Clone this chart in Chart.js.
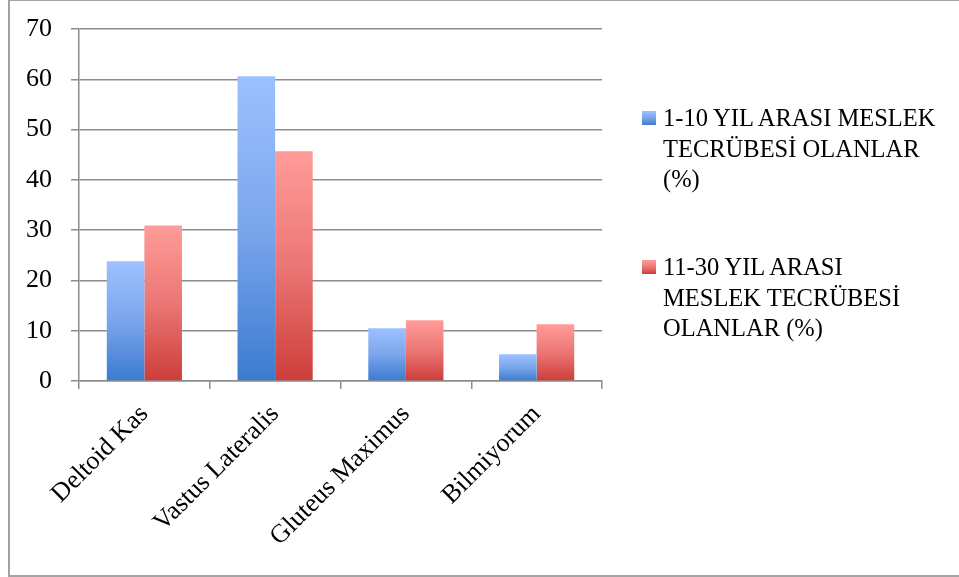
<!DOCTYPE html>
<html>
<head>
<meta charset="utf-8">
<script src="https://cdn.jsdelivr.net/npm/chart.js@4.4.0/dist/chart.umd.min.js"></script>
<style>
  html, body { margin: 0; padding: 0; background: #fff; }
  #wrap { position: relative; width: 959px; height: 577px; overflow: hidden; font-family: 'Liberation Serif', serif; }
  #frame { position: absolute; left: 8px; top: -1px; width: 960px; height: 574px; border: 2px solid #a3a3a3; }
  canvas { position: absolute; left: 0; top: 0; }
  #legend { position: absolute; left: 642px; top: 103px; margin: 0; padding: 0; list-style: none; }
  #legend li { position: relative; padding-left: 21px; margin-bottom: 57.5px; font-size: 24.5px; line-height: 30.5px; color: #000; white-space: nowrap; }
  #legend .box { position: absolute; left: 0; top: 8px; width: 14px; height: 14px; }
</style>
</head>
<body>
<div id="wrap">
  <div id="frame"></div>
  <canvas id="chart" width="959" height="577"></canvas>
  <ul id="legend"></ul>
</div>
<script>
const categories = ['Deltoid Kas', 'Vastus Lateralis', 'Gluteus Maximus', 'Bilmiyorum'];
const yTicks = [0, 10, 20, 30, 40, 50, 60, 70];

const series1Lines = ['1-10 YIL ARASI MESLEK', 'TECRÜBESİ OLANLAR', '(%)'];
const series1Values = [23.8, 60.6, 10.5, 5.3];

const series2Lines = ['11-30 YIL ARASI', 'MESLEK TECRÜBESİ', 'OLANLAR (%)'];
const series2Values = [30.9, 45.7, 12.1, 11.3];

const blueStops = ['#9dc1ff', '#7aa5ec', '#3b7bcf'];
const redStops = ['#ff9c99', '#eb7674', '#cd3d3a'];

const FONT = 'Liberation Serif';
const GRID = '#8c8c8c';

// each bar gets its own vertical gradient, light at the top, dark at the base
const barGradient = (stops) => (ctx) => {
  const { chart, raw } = ctx;
  const y = chart.scales && chart.scales.y;
  if (!y || raw == null || !chart.chartArea) return stops[1];
  const g = chart.ctx.createLinearGradient(0, y.getPixelForValue(raw), 0, y.getPixelForValue(0));
  g.addColorStop(0, stops[0]);
  g.addColorStop(0.5, stops[1]);
  g.addColorStop(1, stops[2]);
  return g;
};

const legendLines = [series1Lines, series2Lines];
const legendStops = [blueStops, redStops];

// html legend: the built-in one cannot be wider than a quarter of the canvas here
const htmlLegend = {
  id: 'htmlLegend',
  afterUpdate(chart) {
    const list = document.getElementById('legend');
    list.innerHTML = '';
    chart.data.datasets.forEach((ds, i) => {
      const li = document.createElement('li');
      const box = document.createElement('span');
      box.className = 'box';
      const s = legendStops[i];
      box.style.background = `linear-gradient(${s[0]}, ${s[1]}, ${s[2]})`;
      li.appendChild(box);
      legendLines[i].forEach((line, k) => {
        if (k) li.appendChild(document.createElement('br'));
        li.appendChild(document.createTextNode(line));
      });
      list.appendChild(li);
    });
  }
};

new Chart(document.getElementById('chart'), {
  type: 'bar',
  data: {
    labels: categories,
    datasets: [
      {
        label: series1Lines.join(' '),
        data: series1Values,
        backgroundColor: barGradient(blueStops),
        categoryPercentage: 0.575,
        barPercentage: 1
      },
      {
        label: series2Lines.join(' '),
        data: series2Values,
        backgroundColor: barGradient(redStops),
        categoryPercentage: 0.575,
        barPercentage: 1
      }
    ]
  },
  plugins: [htmlLegend],
  options: {
    responsive: false,
    animation: false,
    layout: { padding: { top: 29, right: 357, bottom: 0, left: 0 } },
    plugins: {
      tooltip: { enabled: false },
      legend: { display: false }
    },
    scales: {
      x: {
        grid: { display: true, drawOnChartArea: false, drawTicks: true, tickLength: 8, color: GRID, lineWidth: 1.5, offset: true },
        border: { display: true, color: GRID, width: 1.5 },
        ticks: { color: '#000', font: { family: FONT, size: 26 }, minRotation: 45, maxRotation: 45, padding: 10 },
        afterFit: (s) => { s.height = 196; }
      },
      y: {
        min: 0,
        max: 70,
        afterBuildTicks: (s) => { s.ticks = yTicks.map((v) => ({ value: v })); },
        grid: { color: GRID, lineWidth: 1.5, drawTicks: true, tickLength: 8 },
        border: { display: true, color: GRID, width: 1.5 },
        ticks: { color: '#000', font: { family: FONT, size: 26 }, padding: 19 },
        // fixed width; drop the label padding so the plot top sits at the layout padding
        afterFit: (s) => { s.width = 79; s.paddingTop = 0; s.paddingBottom = 0; }
      }
    }
  }
});
</script>
</body>
</html>
